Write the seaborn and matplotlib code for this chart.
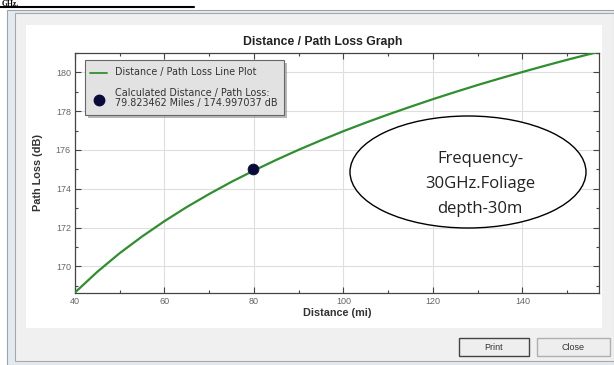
import matplotlib
matplotlib.use("Agg")
import matplotlib.pyplot as plt
from matplotlib.patches import Ellipse, Rectangle
import seaborn as sns
import pandas as pd
import numpy as np

# Data
distance_mi = [40, 45, 50, 55, 60, 65, 70, 75, 80, 85, 90, 95, 100, 105, 110, 115, 120, 125, 130, 135, 140, 145, 150, 157]
path_loss_db = [168.65, 169.72, 170.68, 171.54, 172.33, 173.06, 173.73, 174.36, 174.94, 175.49, 176.01, 176.50,
                176.97, 177.41, 177.83, 178.23, 178.62, 178.99, 179.35, 179.69, 180.02, 180.34, 180.65, 181.06]
calc_distance = [79.823462]
calc_loss = [174.997037]
x_ticks = [40, 60, 80, 100, 120, 140]
y_ticks = [170, 172, 174, 176, 178, 180]

sns.set_theme(style="white")
plt.rcParams['font.family'] = ['Liberation Sans', 'DejaVu Sans']

W, H = 614, 365
fig = plt.figure(figsize=(W / 100, H / 100), dpi=100)
fig.patch.set_facecolor('white')

# window chrome (behind)
bg = fig.add_axes([0, 0, 1, 1], zorder=-10)
bg.set_xlim(0, W)
bg.set_ylim(H, 0)
bg.axis('off')
bg.add_patch(Rectangle((7, 10), W - 7, H - 10, facecolor='#e4ebf0', edgecolor='#9aa4ad', lw=0.8))
bg.add_patch(Rectangle((15, 13), W - 15, H - 13 - 4, facecolor='#f0f0f0', edgecolor='#a8a8a8', lw=0.8))
bg.add_patch(Rectangle((26, 25), 576, 303, facecolor='white', edgecolor='none'))
bg.plot([0, 194], [7, 7], color='black', lw=1.5)
bg.text(2, 0.5, 'GHz.', fontsize=5.5, fontweight='bold', color='black', va='top', ha='left',
        family=['Liberation Serif', 'DejaVu Serif'])
# buttons
for (bx, bw, lab, ec) in [(459, 70, 'Print', '#444444'), (537, 73, 'Close', '#b0b0b0')]:
    bg.add_patch(Rectangle((bx, 338), bw, 18, facecolor='#eeeeee', edgecolor=ec, lw=1.0))
    bg.text(bx + bw / 2, 347, lab, fontsize=6.5, ha='center', va='center', color='#333333')
bg.text(323, 42, 'Distance / Path Loss Graph', fontsize=8.8, fontweight='bold', ha='center', va='center',
        color='#222222')

# plot area
ax = fig.add_axes([75 / W, 1 - 292.5 / H, (598.5 - 75) / W, (292.5 - 53) / H], zorder=0)
df = pd.DataFrame({'d': distance_mi, 'pl': path_loss_db})
sns.lineplot(data=df, x='d', y='pl', ax=ax, color='#2f8f2f', lw=1.6, zorder=3)
sns.scatterplot(x=calc_distance, y=calc_loss, ax=ax, color='#0b0b3b', s=60, edgecolor='#0b0b3b', zorder=4)

ax.set_xlim(40, 157.0)
ax.set_ylim(168.65, 181.0)
ax.set_xticks(x_ticks)
ax.set_yticks(y_ticks)
ax.set_xticks(np.arange(50, 157, 20), minor=True)
ax.set_yticks(np.arange(169, 181.1, 2), minor=True)
ax.grid(True, which='major', color='#dedede', lw=0.8)
ax.tick_params(which='both', direction='in', top=True, right=True, length=4, width=0.8, colors='#444444',
               labelsize=6.5, labelcolor='#666666', bottom=True, left=True, pad=3)
ax.tick_params(which='minor', length=2.5)
for s in ax.spines.values():
    s.set_color('#444444')
    s.set_linewidth(0.9)
ax.set_xlabel('Distance (mi)', fontsize=7.8, fontweight='bold', color='#333333', labelpad=2)
ax.set_ylabel('Path Loss (dB)', fontsize=7.8, fontweight='bold', color='#333333', labelpad=9)

# overlay (on top)
ov = fig.add_axes([0, 0, 1, 1], zorder=10)
ov.set_xlim(0, W)
ov.set_ylim(H, 0)
ov.axis('off')
ov.patch.set_alpha(0)

# legend box
ov.add_patch(Rectangle((88, 63), 199, 55, facecolor='#8a8a8a', edgecolor='none', alpha=0.6))
ov.add_patch(Rectangle((85, 60), 199, 55, facecolor='#e2e2e2', edgecolor='#666666', lw=0.8))
ov.plot([90, 107], [73, 73], color='#2f8f2f', lw=1.3)
ov.plot([99], [100], marker='o', color='#0b0b3b', markersize=7.5, ls='none')
lg_font = ['DejaVu Sans']
ov.text(115, 72, 'Distance / Path Loss Line Plot', fontsize=6.9, color='#333333', va='center', family=lg_font)
ov.text(115, 98, 'Calculated Distance / Path Loss:\n79.823462 Miles / 174.997037 dB', fontsize=6.9,
        color='#333333', va='center', linespacing=0.95, family=lg_font)

# annotation ellipse
ov.add_patch(Ellipse((468, 172), 236, 112, facecolor='white', edgecolor='black', lw=1.0))
ov.text(480, 184, 'Frequency-\n30GHz.Foliage\ndepth-30m', fontsize=12, ha='center', va='center',
        color='#222222', linespacing=1.75, family=['Open Sans', 'DejaVu Sans'])

fig.savefig('out.png', dpi=100)
